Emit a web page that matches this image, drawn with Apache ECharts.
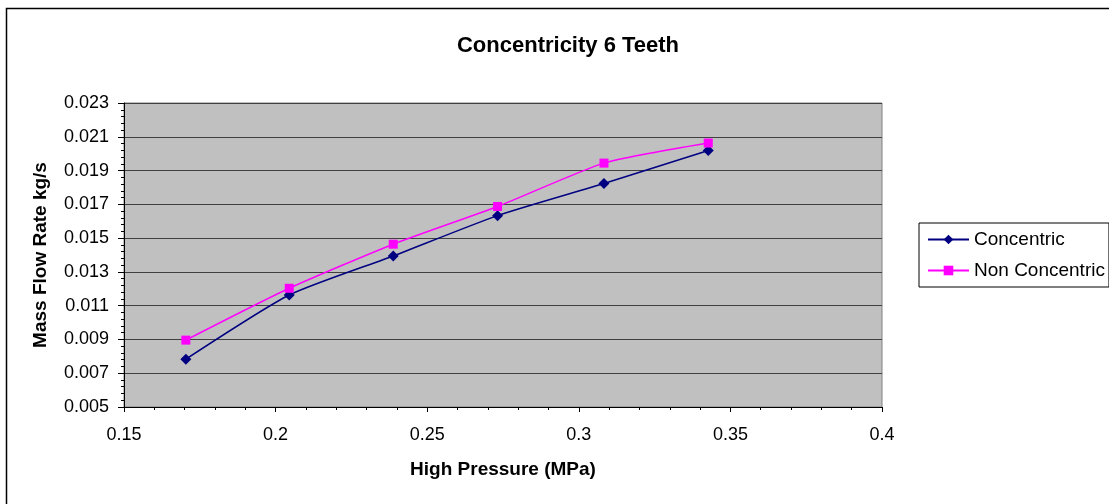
<!DOCTYPE html>
<html><head><meta charset="utf-8">
<script src="https://cdn.jsdelivr.net/npm/echarts@6/dist/echarts.min.js"></script>
<style>html,body{margin:0;padding:0;background:#fff}#c{width:1109px;height:504px}</style>
</head><body><div id="c"></div>
<script>
const pressure = [0.1704, 0.2045, 0.2388, 0.2732, 0.3083, 0.3427];
const concentric = [0.00783, 0.01163, 0.01394, 0.01633, 0.01823, 0.02019];
const nonConcentric = [0.00896, 0.01203, 0.01464, 0.01687, 0.01944, 0.02063];
const yTicks = ['0.005','0.007','0.009','0.011','0.013','0.015','0.017','0.019','0.021','0.023'];
const xTicks = ['0.15','0.2','0.25','0.3','0.35','0.4'];

const font = 'Liberation Sans, Arial, sans-serif';
const chart = echarts.init(document.getElementById('c'));
chart.setOption({
  animation: false,
  backgroundColor: '#fff',
  graphic: [{type:'rect', shape:{x:6.5,y:8.5,width:1120,height:510}, style:{fill:'none',stroke:'#000',lineWidth:1.5}, silent:true}],
  title: {text:'Concentricity 6 Teeth', left:563, top:30, textAlign:'center',
    textStyle:{fontFamily:font, fontSize:22, fontWeight:'bold', color:'#000'}},
  grid: {left:124, top:103, width:758, height:304, backgroundColor:'#c0c0c0', show:true, borderColor:'#808080', borderWidth:1},
  legend: {left:919, top:223, orient:'vertical', itemGap:12, itemWidth:41, itemHeight:12,
    padding:[7,4,7,8], borderColor:'#000', borderWidth:1,
    textStyle:{fontFamily:font, fontSize:19, color:'#000'},
    data:['Concentric','Non Concentric']},
  xAxis: {type:'value', min:0.15, max:0.4, interval:0.05,
    name:'High Pressure (MPa)', nameLocation:'middle', nameGap:53,
    nameTextStyle:{fontFamily:font, fontSize:19, fontWeight:'bold', color:'#000'},
    axisLine:{lineStyle:{color:'#000'}},
    axisTick:{show:true, length:5, lineStyle:{color:'#000'}},
    minorTick:{show:true, splitNumber:5, length:3, lineStyle:{color:'#000'}},
    splitLine:{show:false},
    axisLabel:{fontFamily:font, fontSize:18, color:'#000', margin:19,
      formatter: v => xTicks[Math.round((v-0.15)/0.05)]}},
  yAxis: {type:'value', min:0.005, max:0.023, interval:0.002,
    name:'Mass Flow Rate kg/s', nameLocation:'middle', nameGap:74,
    nameTextStyle:{fontFamily:font, fontSize:19, fontWeight:'bold', color:'#000'},
    axisLine:{lineStyle:{color:'#000'}},
    axisTick:{show:true, length:6, lineStyle:{color:'#000'}},
    minorTick:{show:true, splitNumber:5, length:3, lineStyle:{color:'#000'}},
    splitLine:{show:true, lineStyle:{color:'#404040', width:1}},
    axisLabel:{fontFamily:font, fontSize:18, color:'#000', margin:15,
      formatter: v => yTicks[Math.round((v-0.005)/0.002)]}},
  series: [
    {name:'Concentric', type:'line', smooth:0.2, data: pressure.map((x,i)=>[x, concentric[i]]),
      symbol:'diamond', symbolSize:11, lineStyle:{color:'#000080', width:1.5},
      itemStyle:{color:'#000080'}},
    {name:'Non Concentric', type:'line', smooth:0.2, data: pressure.map((x,i)=>[x, nonConcentric[i]]),
      symbol:'rect', symbolSize:9, lineStyle:{color:'#ff00ff', width:1.5},
      itemStyle:{color:'#ff00ff'}}
  ]
});
</script></body></html>
